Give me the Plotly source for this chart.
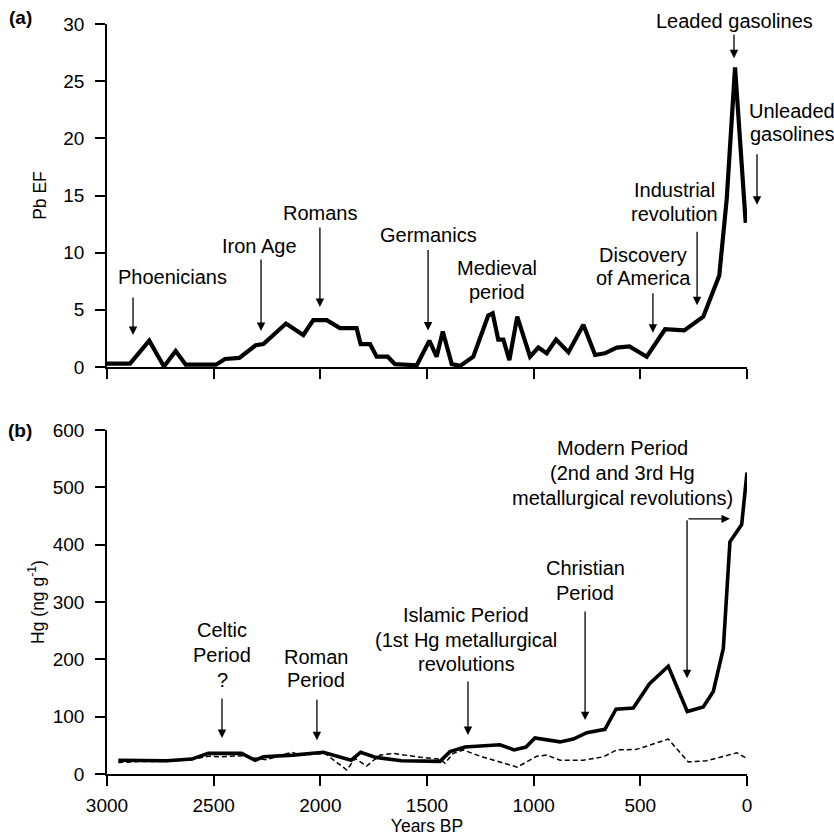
import plotly.graph_objects as go
from plotly.subplots import make_subplots

# Pb enrichment factor record (years BP, EF)
pb_years = [3000, 2892, 2802, 2733, 2678, 2631, 2489, 2447, 2380, 2303, 2267, 2161,
            2080, 2033, 1970, 1908, 1830, 1811, 1767, 1736, 1684, 1650, 1548, 1509,
            1489, 1455, 1426, 1384, 1345, 1283, 1213, 1192, 1166, 1142, 1114, 1077,
            1017, 978, 939, 895, 837, 767, 712, 666, 611, 551, 470, 384, 294, 205,
            130, 95, 56, 6]
pb_ef = [0.3, 0.3, 2.3, 0.05, 1.4, 0.2, 0.2, 0.7, 0.8, 1.9, 2.0, 3.8,
         2.8, 4.1, 4.1, 3.4, 3.4, 2.0, 2.0, 0.9, 0.9, 0.25, 0.15, 1.7,
         2.3, 0.9, 3.1, 0.25, 0.1, 0.9, 4.5, 4.7, 2.4, 2.4, 0.6, 4.4,
         0.9, 1.7, 1.2, 2.4, 1.3, 3.7, 1.05, 1.2, 1.7, 1.8, 0.9, 3.3, 3.2, 4.4,
         8.0, 14.7, 26.2, 12.6]

# Hg concentration record (solid)
hg_years = [2947, 2720, 2603, 2525, 2369, 2306, 2267, 2205, 2127, 1986, 1855, 1811,
            1740, 1620, 1439, 1392, 1322, 1158, 1092, 1036, 994, 877, 814, 751,
            666, 614, 533, 458, 369, 280, 205, 158, 111, 80, 25, 0]
hg_conc = [24, 23, 26, 36, 36, 24, 30, 31, 33, 38, 24, 38,
           29, 23, 22, 39, 47, 51, 42, 47, 63, 56, 61, 72,
           78, 113, 115, 157, 188, 109, 117, 144, 219, 405, 435, 526]

# Hg second record (dashed)
hg2_years = [2947, 2830, 2720, 2603, 2525, 2470, 2361, 2298, 2251, 2134, 2095, 1978,
             1947, 1876, 1837, 1783, 1720, 1658, 1548, 1439, 1416, 1377, 1330, 1251,
             1077, 986, 939, 876, 767, 673, 611, 517, 369, 275, 189, 48, 0]
hg2_conc = [20, 22, 22, 25, 31, 30, 32, 27, 25, 38, 33, 36,
            27, 7, 27, 14, 33, 36, 30, 26, 19, 36, 42, 31,
            12, 31, 33, 24, 24, 30, 42, 43, 61, 21, 23, 37, 27]

x_ticks = [3000, 2500, 2000, 1500, 1000, 500, 0]
pb_ticks = [0, 5, 10, 15, 20, 25, 30]
hg_ticks = [0, 100, 200, 300, 400, 500, 600]

FONT = "Liberation Sans, Arial, sans-serif"
FS = 20       # event labels
TICK_FS = 19  # tick labels
TITLE_FS = 17.5

# Plot area in pixels
W, H = 834, 837
L, R, T, B = 107, 87, 24, 63
PW, PH = W - L - R, H - T - B


def px(x):
    return (x - L) / PW


def py(y):
    return (H - B - y) / PH


fig = make_subplots(rows=2, cols=1, vertical_spacing=0.0)

fig.add_trace(go.Scatter(x=pb_years, y=pb_ef, mode="lines",
                         line=dict(color="black", width=4.2),
                         showlegend=False), row=1, col=1)
fig.add_trace(go.Scatter(x=hg2_years, y=hg2_conc, mode="lines",
                         line=dict(color="black", width=1.5, dash="5px,3px"),
                         showlegend=False), row=2, col=1)
fig.add_trace(go.Scatter(x=hg_years, y=hg_conc, mode="lines",
                         line=dict(color="black", width=3.6),
                         showlegend=False), row=2, col=1)

axis_common = dict(showline=True, linecolor="black", linewidth=1.6,
                   ticks="outside", ticklen=10, tickwidth=1.6, tickcolor="black",
                   showgrid=False, zeroline=False, automargin=False,
                   tickfont=dict(family=FONT, size=TICK_FS, color="black"))

fig.update_xaxes(range=[3000, 0], tickvals=x_ticks, ticklabelstandoff=3, **axis_common)
fig.update_xaxes(showticklabels=False, row=1, col=1)
fig.update_xaxes(ticktext=[str(v) for v in x_ticks],
                 title=dict(text="Years BP",
                            font=dict(family=FONT, size=TITLE_FS, color="black"),
                            standoff=4),
                 row=2, col=1)
fig.update_yaxes(ticklabelstandoff=7, **axis_common)
fig.update_yaxes(range=[0, 30], tickvals=pb_ticks,
                 title=dict(text="Pb EF",
                            font=dict(family=FONT, size=TITLE_FS, color="black"),
                            standoff=12),
                 row=1, col=1)
fig.update_yaxes(range=[0, 600], tickvals=hg_ticks,
                 title=dict(text="Hg (ng g<sup>-1</sup>)",
                            font=dict(family=FONT, size=TITLE_FS, color="black"),
                            standoff=4),
                 row=2, col=1)

fig.layout.yaxis.domain = [py(367), 1.0]
fig.layout.yaxis2.domain = [0.0, py(430)]

ann = []

# Event labels: lines of text, horizontal centre and the centre y of each line (px)
labels = [
    (["Phoenicians"], 172, [277]),
    (["Iron Age"], 259, [246]),
    (["Romans"], 320, [213]),
    (["Germanics"], 428, [235]),
    (["Medieval", "period"], 497, [268, 292]),
    (["Discovery", "of America"], 643, [255, 278]),
    (["Industrial", "revolution"], 674, [190, 214]),
    (["Leaded gasolines"], 734, [21]),
    (["Unleaded", "gasolines"], 792, [111, 134]),
    (["Celtic", "Period", "?"], 222, [630, 655, 680]),
    (["Roman", "Period"], 316, [657, 680]),
    (["Islamic Period", "(1st Hg metallurgical", "revolutions"], 466, [615, 640, 664]),
    (["Christian", "Period"], 585, [568, 593]),
    (["Modern Period", "(2nd and 3rd Hg", "metallurgical revolutions)"], 622,
     [448, 473, 498]),
]
for lines, cx, ys in labels:
    for text, cy in zip(lines, ys):
        ann.append(dict(text=text, x=px(cx), y=py(cy), xref="paper", yref="paper",
                        xanchor="center", yanchor="middle", showarrow=False,
                        font=dict(family=FONT, size=FS, color="black")))

arrow_style = dict(showarrow=True, arrowhead=2, arrowsize=1.3, arrowwidth=1.3,
                   arrowcolor="black", text="", standoff=0)

# Arrows: (year, value at tip, arrow length in px)
arrows_a = [(2878, 2.8, 39), (2278, 3.15, 73), (2002, 5.25, 81), (1495, 3.2, 82),
            (441, 3.0, 41), (234, 5.4, 75), (61, 27.0, 25)]
for xv, yv, ln in arrows_a:
    ann.append(dict(x=xv, y=yv, xref="x", yref="y", ax=0, ay=-ln, **arrow_style))
ann.append(dict(x=px(757), y=14.2, xref="paper", yref="y", ax=0, ay=-52, **arrow_style))

arrows_b = [(2461, 63, 41), (2016, 59, 42), (1308, 68, 55), (759, 94, 110)]
for xv, yv, ln in arrows_b:
    ann.append(dict(x=xv, y=yv, xref="x2", yref="y2", ax=0, ay=-ln, **arrow_style))

# Bracket arrow for the Modern Period
ann.append(dict(x=281, y=167, xref="x2", yref="y2", ax=281, ay=445,
                axref="x2", ayref="y2", **arrow_style))
ann.append(dict(x=80, y=445, xref="x2", yref="y2", ax=281, ay=445,
                axref="x2", ayref="y2", **arrow_style))

# Panel letters
for letter, ly in (("(a)", 18), ("(b)", 430)):
    ann.append(dict(text="<b>%s</b>" % letter, x=px(20), y=py(ly), xref="paper",
                    yref="paper", xanchor="center", yanchor="middle", showarrow=False,
                    font=dict(family=FONT, size=19, color="black")))

fig.update_layout(width=W, height=H, margin=dict(l=L, r=R, t=T, b=B),
                  paper_bgcolor="white", plot_bgcolor="white",
                  annotations=ann, showlegend=False)

fig.write_html("out.html")
